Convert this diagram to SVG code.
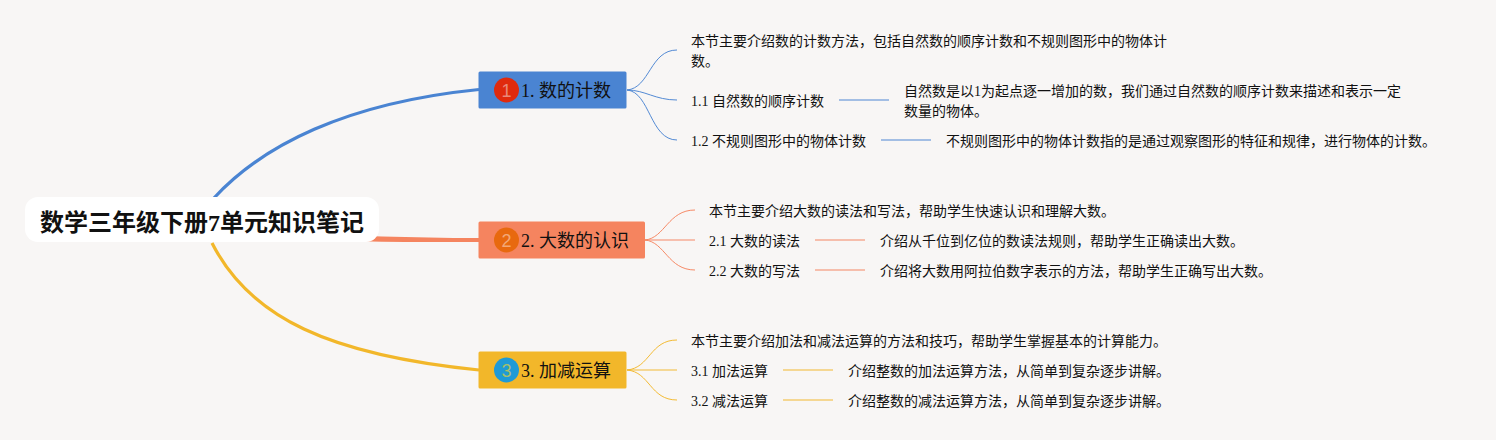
<svg xmlns="http://www.w3.org/2000/svg" width="1496" height="440" viewBox="0 0 1496 440">
<style>
text{font-family:"Liberation Serif","Noto Sans CJK SC",serif;fill:#111}
.t{font-size:14px}
.b{font-size:18px}
.m{font-size:24px;font-weight:700}
.n{font-family:"Liberation Sans","Noto Sans CJK SC",sans-serif;font-size:18px;text-anchor:middle}
.c{fill:none}
.blue{stroke:#4a84d2}.red{stroke:#f5845f}.yel{stroke:#f2b72a}
.thin{stroke-width:1;opacity:.95}
.lv{stroke-width:1.500;opacity:.65}
</style>
<rect width="1496" height="440" fill="#f8f6f5"/>
<g id="connectors">
<path class="c blue" stroke-width="3.200" d="M214 198C262 146 345 103 479 89.500"/>
<path fill="#f5845f" d="M298 233.500C350 235.500 410 238 479 238V242C410 242 350 242 298 240.500Z"/>
<path class="c yel" stroke-width="3.200" d="M212 243C250 318 330 355 479 370"/>
<path class="c blue thin" d="M627 90C650 88 650 50 677 50"/>
<path class="c blue thin" d="M627 90C645 90 655 100 677 100"/>
<path class="c blue thin" d="M627 90C650 92 650 140 677 140"/>
<path class="c blue lv" d="M839 100H889"/>
<path class="c blue lv" d="M881 140H931"/>
<path class="c red thin" d="M645 240C665 238 668 210 695 210"/>
<path class="c red thin" d="M645 240H695"/>
<path class="c red thin" d="M645 240C665 242 668 270 695 270"/>
<path class="c red lv" d="M815 240H865"/>
<path class="c red lv" d="M815 270H865"/>
<path class="c yel thin" d="M627 370C650 368 650 340 677 340"/>
<path class="c yel thin" d="M627 370H677"/>
<path class="c yel thin" d="M627 370C650 372 650 400 677 400"/>
<path class="c yel lv" d="M783 370H833"/>
<path class="c yel lv" d="M783 400H833"/>
</g>
<g id="root"><rect x="25" y="197" width="354" height="45" rx="13" fill="#fff"/><text class="m" x="40" y="231">数学三年级下册7单元知识笔记</text></g>
<g id="b1"><rect x="478.500" y="71.500" width="148" height="37" rx="1.500" fill="#4a84d2"/><circle cx="506.500" cy="90" r="12.500" fill="#e02a0d"/><text class="n" x="506.500" y="96.500" style="fill:#e9897a">1</text><text class="b" x="521" y="97">1. 数的计数</text></g>
<g id="b2"><rect x="478.500" y="221.500" width="166.500" height="37" rx="1.500" fill="#f5845f"/><circle cx="506.500" cy="240" r="12.500" fill="#e8690f"/><text class="n" x="506.500" y="246.500" style="fill:#f3a877">2</text><text class="b" x="521" y="247">2. 大数的认识</text></g>
<g id="b3"><rect x="478.500" y="351.500" width="148" height="37" rx="1.500" fill="#f2b72a"/><circle cx="506.500" cy="370" r="12.500" fill="#1f9ad6"/><text class="n" x="506.500" y="376.500" style="fill:#a8bf6a">3</text><text class="b" x="521" y="377">3. 加减运算</text></g>
<g id="n1-0"><text class="t" x="691" y="46">本节主要介绍数的计数方法，包括自然数的顺序计数和不规则图形中的物体计</text><text class="t" x="691" y="66">数。</text></g>
<g id="n1-1"><text class="t" x="691" y="106">1.1 自然数的顺序计数</text></g>
<g id="n1-1-1"><text class="t" x="904" y="96">自然数是以1为起点逐一增加的数，我们通过自然数的顺序计数来描述和表示一定</text><text class="t" x="904" y="116">数量的物体。</text></g>
<g id="n1-2"><text class="t" x="691" y="146">1.2 不规则图形中的物体计数</text></g>
<g id="n1-2-1"><text class="t" x="946" y="146">不规则图形中的物体计数指的是通过观察图形的特征和规律，进行物体的计数。</text></g>
<g id="n2-0"><text class="t" x="709" y="216">本节主要介绍大数的读法和写法，帮助学生快速认识和理解大数。</text></g>
<g id="n2-1"><text class="t" x="709" y="246">2.1 大数的读法</text></g>
<g id="n2-1-1"><text class="t" x="880" y="246">介绍从千位到亿位的数读法规则，帮助学生正确读出大数。</text></g>
<g id="n2-2"><text class="t" x="709" y="276">2.2 大数的写法</text></g>
<g id="n2-2-1"><text class="t" x="880" y="276">介绍将大数用阿拉伯数字表示的方法，帮助学生正确写出大数。</text></g>
<g id="n3-0"><text class="t" x="691" y="346">本节主要介绍加法和减法运算的方法和技巧，帮助学生掌握基本的计算能力。</text></g>
<g id="n3-1"><text class="t" x="691" y="376">3.1 加法运算</text></g>
<g id="n3-1-1"><text class="t" x="848" y="376">介绍整数的加法运算方法，从简单到复杂逐步讲解。</text></g>
<g id="n3-2"><text class="t" x="691" y="406">3.2 减法运算</text></g>
<g id="n3-2-1"><text class="t" x="848" y="406">介绍整数的减法运算方法，从简单到复杂逐步讲解。</text></g>
</svg>
